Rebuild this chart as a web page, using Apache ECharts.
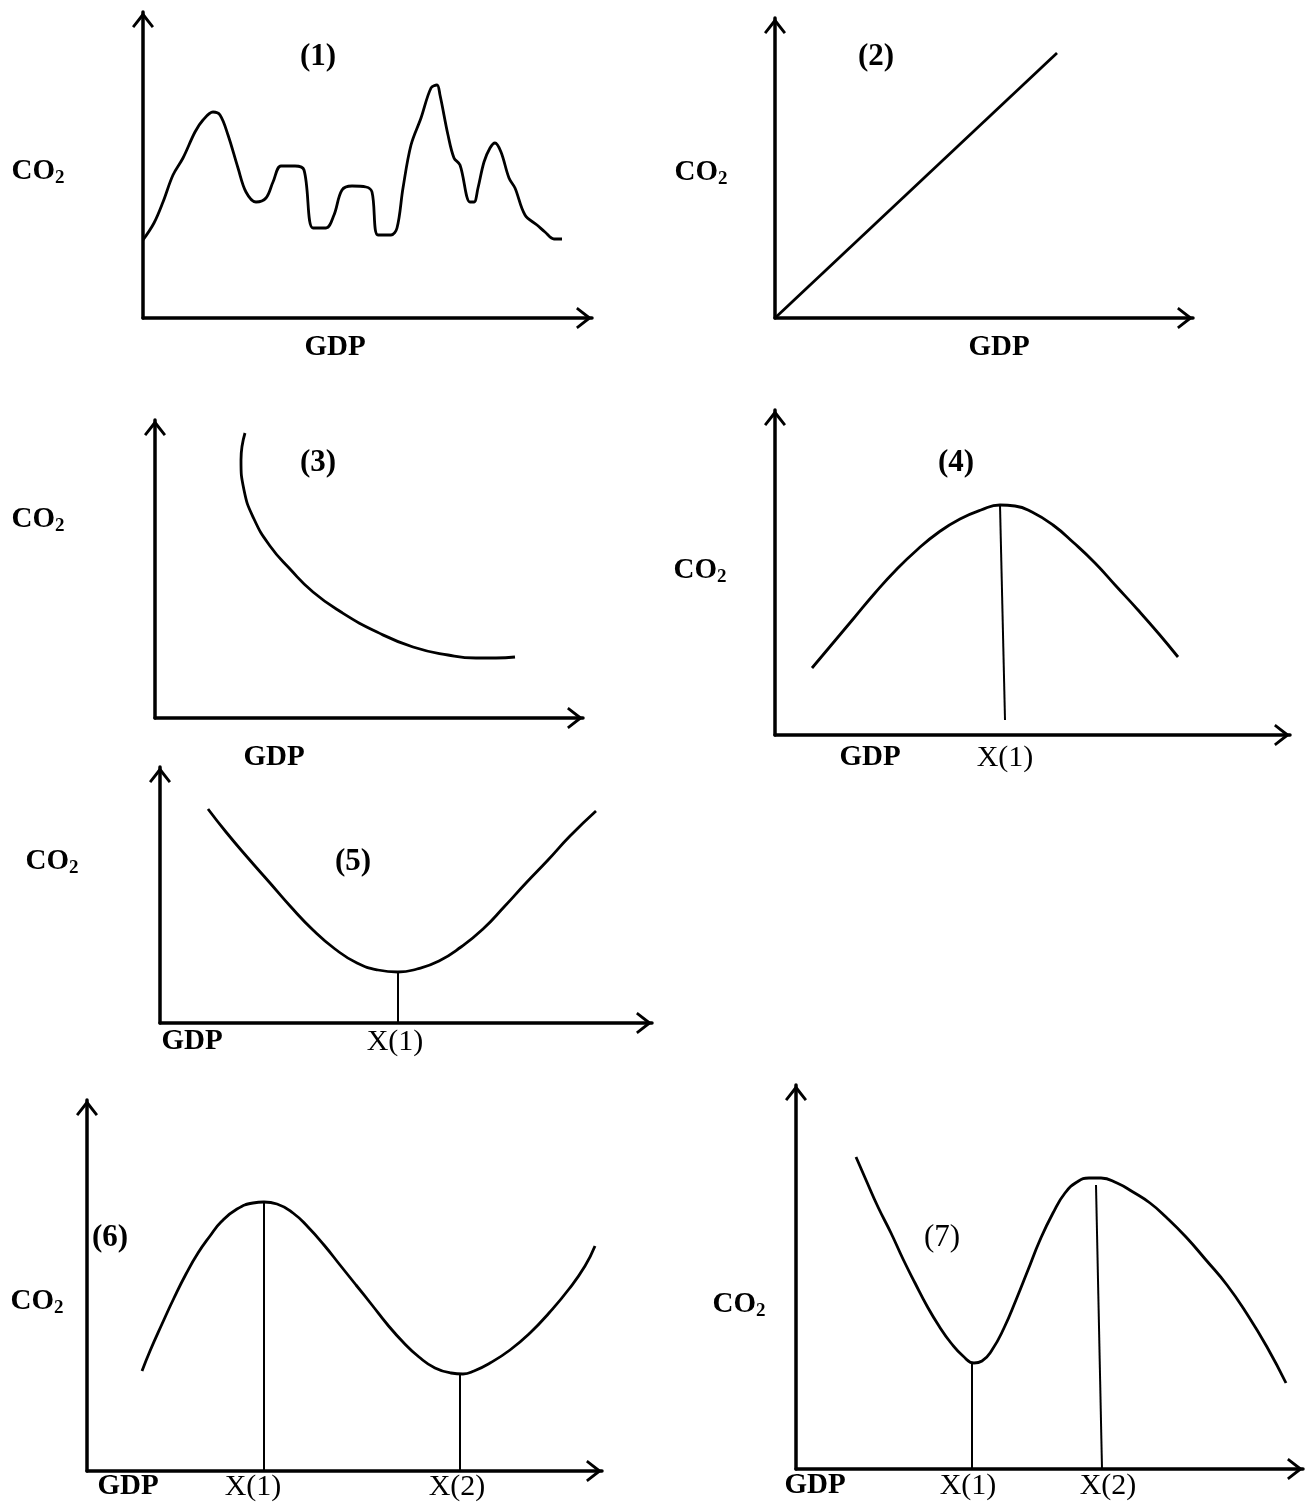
<!DOCTYPE html>
<html>
<head>
<meta charset="utf-8">
<title>CO2 - GDP relations</title>
<script src="https://cdn.jsdelivr.net/npm/echarts@6/dist/echarts.min.js"></script>
<style>
	html, body { margin: 0; padding: 0; background: #fff; }
	#chart { width: 1315px; height: 1503px; }
</style>
</head>
<body>
<div id="chart"></div>
<script>
	/*------------------------------- Data (GDP, CO2) -------------------------------*/

	// (1) no clear relation, wavy
	const curve1 = [[0,78],[11,95],[20,116],[30,143],[40,160],[52,186],[60,198],[70,206],[77,203],[85,183],[95,150],
		[103,126],[113,116],[123,120],[130,136],[138,152],[152,152],[161,148],[170,90],[183,90],[191,103],[199,128],
		[209,132],[223,131],[229,126],[235,83],[248,83],[254,90],[260,130],[268,173],[278,200],[288,230],[294,233],
		[297,223],[305,183],[311,160],[317,153],[327,116],[331,116],[335,130],[341,156],[347,170],[352,175],[358,166],
		[366,140],[372,130],[382,103],[394,93],[402,86],[411,79],[419,79]];

	// (2) linear increase
	const line2 = [[0,0],[282,265]];

	// (3) decreasing
	const curve3 = [[90,285],[86,258],[89,228],[99,199],[115,172],[135,149],[158,126],[186,106],[222,86],[258,71],
		[293,63],[321,60],[341,60],[360,61]];

	// (4) inverted U
	const curve4 = [[37,67],[58,92],[79,117],[100,142],[121,165],[143,186],[164,203],[185,216],[206,225],[225,230],
		[240,229],[257,223],[278,210],[299,192],[320,172],[341,149],[363,125],[384,101],[403,78]];
	const drop4 = [[225,230],[230,15]];

	// (5) U shape
	const curve5 = [[48,214],[66,191],[88,165],[110,140],[131,116],[153,93],[175,74],[197,60],[218,53],[238,51],
		[257,54],[279,62],[301,76],[323,94],[344,116],[366,140],[388,163],[410,187],[436,212]];
	const drop5 = [[238,51],[238,0]];

	// (6) N shape
	const curve6 = [[55,100],[63,120],[75,147],[87,173],[99,197],[111,218],[123,235],[134,249],[150,262],[166,268],
		[177,269],[190,267],[206,258],[221,244],[237,226],[253,206],[269,186],[285,166],[300,147],[316,129],[332,114],
		[348,103],[364,98],[376,97],[387,100],[403,108],[423,121],[443,138],[462,158],[482,182],[498,205],[508,225]];
	const drop6a = [[177,269],[177,0]];
	const drop6b = [[373,97],[373,0]];

	// (7) inverted N
	const curve7 = [[60,312],[70,289],[82,262],[95,236],[107,210],[119,186],[131,163],[143,143],[155,126],[167,113],
		[178,106],[186,108],[196,119],[208,141],[220,169],[232,199],[244,229],[257,256],[269,276],[281,287],[293,291],
		[305,291],[321,286],[337,277],[354,266],[370,252],[390,232],[410,209],[431,184],[451,155],[471,122],[490,86]];
	const drop7a = [[176,107],[176,0]];
	const drop7b = [[300,284],[306,0]];

	// x axis labels per panel
	const tickText = [['GDP'], ['GDP'], ['GDP'], ['GDP','X(1)'], ['GDP','X(1)'], ['GDP','X(1)','X(2)'], ['GDP','X(1)','X(2)']];
	const tickPos  = [[192], [224], [119], [95,230], [32,235], [41,166,370], [19,172,312]];
	const panelNames = ['(1)','(2)','(3)','(4)','(5)','(6)','(7)'];

	/*------------------------------- Layout -------------------------------*/

	const SERIF = '"Liberation Serif", "Times New Roman", serif';
	const CHEVRON = 'path://M0,13L10,0L20,13L18,14.5L10,4.5L2,14.5Z';

	// origin, axis lengths, label margin, CO2 label, panel name position
	let layout = [
		{ ox:143, oy:318,  w:449, h:306, margin:15, co2:[38,172],   nm:[318,57],   bold:true },
		{ ox:775, oy:318,  w:418, h:300, margin:15, co2:[701,173],  nm:[876,57],   bold:true },
		{ ox:155, oy:718,  w:428, h:298, margin:25, co2:[38,520],   nm:[318,463],  bold:true },
		{ ox:775, oy:735,  w:515, h:325, margin:8,  co2:[700,571],  nm:[956,463],  bold:true },
		{ ox:160, oy:1023, w:492, h:256, margin:4,  co2:[52,862],   nm:[353,862],  bold:true },
		{ ox:87,  oy:1471, w:515, h:371, margin:1,  co2:[37,1302],  nm:[110,1238], bold:true },
		{ ox:796, oy:1469, w:507, h:384, margin:2,  co2:[739,1305], nm:[942,1238], bold:false }
	];

	let curves = [
		[curve1], [line2], [curve3], [curve4, drop4], [curve5, drop5], [curve6, drop6a, drop6b], [curve7, drop7a, drop7b]
	];

	let grids = [], xAxes = [], yAxes = [], series = [], texts = [];

	let axisLine = {
		show: true,
		onZero: false,
		symbol: ['none', CHEVRON],
		symbolSize: [22, 16],
		symbolOffset: [0, -8],
		lineStyle: { color: '#000', width: 3.5 }
	};

	layout.forEach(function(p, i){

		grids.push({ left: p.ox, top: p.oy - p.h, width: p.w, height: p.h, outerBoundsMode: 'none' });

		let pos = tickPos[i], names = tickText[i];

		xAxes.push({
			type: 'value', gridIndex: i, min: 0, max: p.w,
			splitLine: { show: false }, axisTick: { show: false },
			axisLine: axisLine,
			axisLabel: {
				show: true,
				customValues: pos,
				margin: p.margin,
				formatter: function(v){
					let k = 0;
					for (let j = 0; j < pos.length; j++) {
						if (Math.abs(pos[j] - v) < Math.abs(pos[k] - v)) k = j;
					}
					return names[k] === 'GDP' ? '{g|GDP}' : '{x|' + names[k] + '}';
				},
				rich: {
					g: { fontFamily: SERIF, fontSize: 29, fontWeight: 'bold', color: '#000' },
					x: { fontFamily: SERIF, fontSize: 30, fontWeight: 'normal', color: '#000' }
				}
			}
		});

		yAxes.push({
			type: 'value', gridIndex: i, min: 0, max: p.h,
			splitLine: { show: false }, axisTick: { show: false }, axisLabel: { show: false },
			axisLine: axisLine
		});

		curves[i].forEach(function(d, j){
			let isCurve = (j === 0 && i !== 1);
			series.push({
				type: 'line',
				xAxisIndex: i,
				yAxisIndex: i,
				data: d,
				showSymbol: false,
				smooth: isCurve ? (i === 0 ? 0.35 : 0.5) : false,
				lineStyle: { color: '#000', width: j === 0 ? 2.8 : 2 }
			});
		});

		texts.push({
			type: 'text', x: p.co2[0], y: p.co2[1],
			style: {
				text: '{a|CO}{b|2}',
				align: 'center', verticalAlign: 'middle',
				rich: {
					a: { fontFamily: SERIF, fontSize: 29, fontWeight: 'bold', lineHeight: 32, fill: '#000' },
					b: { fontFamily: SERIF, fontSize: 19, fontWeight: 'bold', lineHeight: 15, verticalAlign: 'bottom', fill: '#000' }
				}
			}
		});

		texts.push({
			type: 'text', x: p.nm[0], y: p.nm[1],
			style: {
				text: panelNames[i],
				align: 'center', verticalAlign: 'middle',
				fontFamily: SERIF, fontSize: 31, fontWeight: p.bold ? 'bold' : 'normal', fill: '#000'
			}
		});
	});

	let chart = echarts.init(document.getElementById('chart'));
	chart.setOption({
		animation: false,
		backgroundColor: '#fff',
		grid: grids,
		xAxis: xAxes,
		yAxis: yAxes,
		series: series,
		graphic: texts
	});
</script>
</body>
</html>
